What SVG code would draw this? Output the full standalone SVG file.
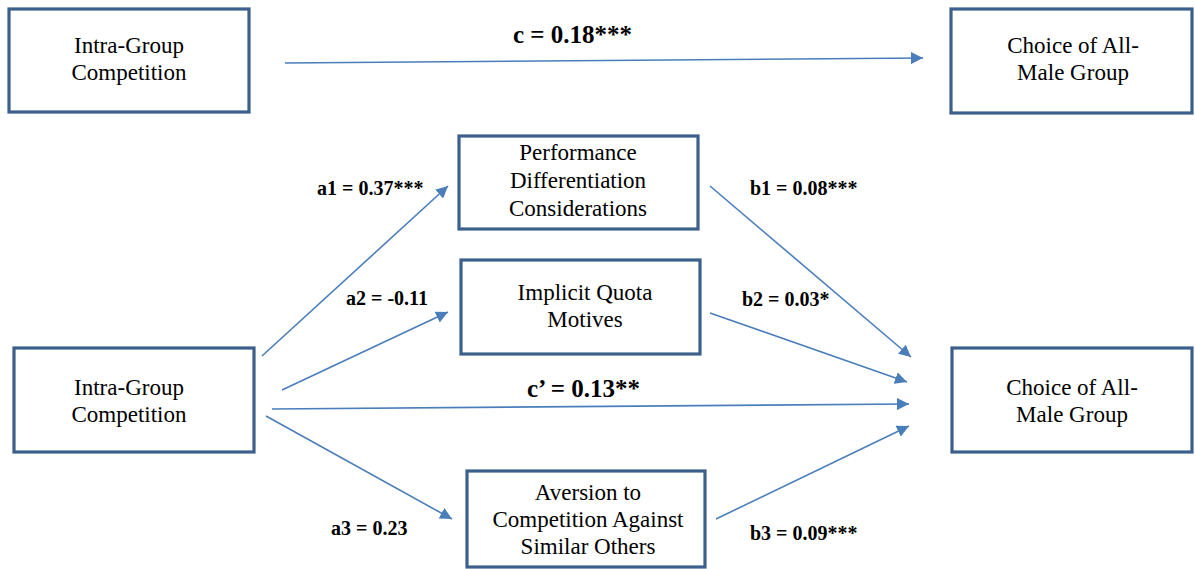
<svg xmlns="http://www.w3.org/2000/svg" width="1195" height="569" viewBox="0 0 1195 569">
<style>
.box{fill:#fff;stroke:#3c5f8b;stroke-width:3.2}
.nt{font-family:"Liberation Serif","Times New Roman",serif;font-size:23px;fill:#000;text-anchor:middle}
.lb{font-family:"Liberation Serif","Times New Roman",serif;font-size:20px;font-weight:bold;fill:#000}
.lbc{font-family:"Liberation Serif","Times New Roman",serif;font-size:25px;font-weight:bold;fill:#000}
.ar{stroke:#4a7ebb;stroke-width:1.6;fill:none;marker-end:url(#ah)}
</style>
<defs>
<marker id="ah" viewBox="0 0 10 10" refX="10" refY="5" markerWidth="7.5" markerHeight="7.5" markerUnits="strokeWidth" orient="auto">
<path d="M0,0 L10,5 L0,10 Z" fill="#4a7ebb"/>
</marker>
</defs>
<rect width="1195" height="569" fill="#fff"/>
<g id="connectors">
<line class="ar" x1="285" y1="63" x2="923" y2="58"/>
<line class="ar" x1="262" y1="356" x2="448" y2="186"/>
<line class="ar" x1="282" y1="390" x2="448" y2="312"/>
<line class="ar" x1="272" y1="409" x2="909" y2="404"/>
<line class="ar" x1="266" y1="416" x2="452" y2="519"/>
<line class="ar" x1="710" y1="186" x2="911" y2="357"/>
<line class="ar" x1="710" y1="313" x2="907" y2="382"/>
<line class="ar" x1="716" y1="519" x2="909" y2="426"/>
<text class="lbc" x="513" y="43">c = 0.18***</text>
<text class="lbc" x="527" y="397">c’ = 0.13**</text>
<text class="lb" x="317" y="195">a1 = 0.37***</text>
<text class="lb" x="346" y="305">a2 = -0.11</text>
<text class="lb" x="331" y="535">a3 = 0.23</text>
<text class="lb" x="750" y="195">b1 = 0.08***</text>
<text class="lb" x="742" y="306">b2 = 0.03*</text>
<text class="lb" x="750" y="540">b3 = 0.09***</text>
</g>
<g id="node-top-left">
<rect class="box" x="9" y="9" width="240" height="103"/>
<text class="nt" x="129" y="53">Intra-Group</text>
<text class="nt" x="129" y="80">Competition</text>
</g>
<g id="node-top-right">
<rect class="box" x="951" y="9" width="241" height="104"/>
<text class="nt" x="1073" y="53">Choice of All-</text>
<text class="nt" x="1073" y="80">Male Group</text>
</g>
<g id="node-performance">
<rect class="box" x="459" y="136" width="239" height="93"/>
<text class="nt" x="578" y="160">Performance</text>
<text class="nt" x="578" y="188">Differentiation</text>
<text class="nt" x="578" y="216">Considerations</text>
</g>
<g id="node-implicit">
<rect class="box" x="461" y="260" width="239" height="94"/>
<text class="nt" x="585" y="300">Implicit Quota</text>
<text class="nt" x="585" y="327">Motives</text>
</g>
<g id="node-bottom-left">
<rect class="box" x="14" y="348" width="240" height="104"/>
<text class="nt" x="129" y="395">Intra-Group</text>
<text class="nt" x="129" y="422">Competition</text>
</g>
<g id="node-aversion">
<rect class="box" x="467" y="471" width="238" height="96"/>
<text class="nt" x="588" y="500">Aversion to</text>
<text class="nt" x="588" y="527">Competition Against</text>
<text class="nt" x="588" y="554">Similar Others</text>
</g>
<g id="node-bottom-right">
<rect class="box" x="952" y="348" width="240" height="104"/>
<text class="nt" x="1072" y="395">Choice of All-</text>
<text class="nt" x="1072" y="422">Male Group</text>
</g>
</svg>
